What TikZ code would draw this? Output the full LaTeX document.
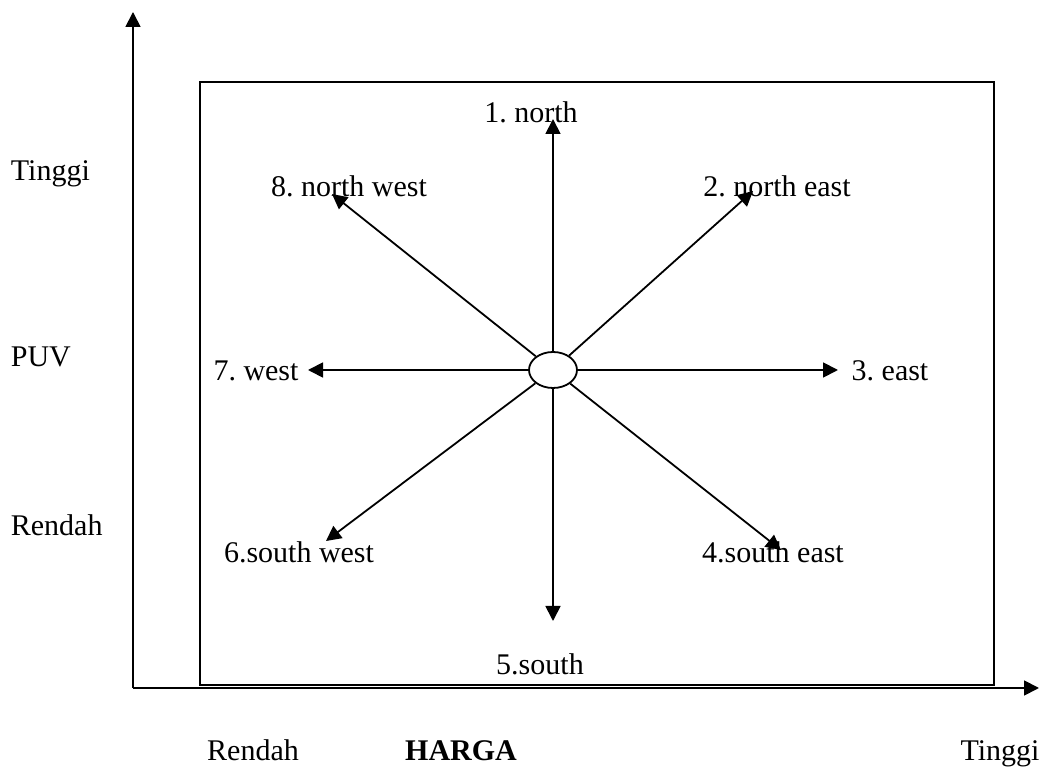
\documentclass[tikz,border=0pt]{standalone}
\usepackage{fontspec}
\setmainfont{Liberation Serif}
\usetikzlibrary{arrows.meta,shapes.geometric}
\tikzset{
  lbl/.style={font=\fontsize{15}{18}\selectfont, inner sep=0pt, text height=1.45ex, text depth=0.3ex, yshift=-2.2pt},
  arr/.style={-{Triangle[length=7.5pt,width=7.5pt]}, line width=0.9pt}
}
\frenchspacing
\begin{document}
\begin{tikzpicture}[x=0.5pt, y=-0.5pt, line width=0.9pt]
  \useasboundingbox (0,0) rectangle (1040,774);
  % axes
  \coordinate (o) at (133,688);
  \coordinate (ytop) at (133,12);
  \coordinate (xend) at (1039,688);
  \draw[arr] (o) -- (ytop);
  \draw[arr] (o) -- (xend);
  \draw (200,82) rectangle (994,685);
  % centre
  \node[draw, ellipse, minimum width=24pt, minimum height=18pt, inner sep=0pt] (c) at (553,370) {};
  \coordinate (tn) at (553,119);
  \coordinate (tne) at (753,191);
  \coordinate (te) at (838,370);
  \coordinate (tse) at (781,550);
  \coordinate (ts) at (553,621);
  \coordinate (tsw) at (326,541);
  \coordinate (tw) at (308,370);
  \coordinate (tnw) at (332,194);
  \draw[arr] (c) -- (tn);
  \draw[arr] (c) -- (tne);
  \draw[arr] (c) -- (te);
  \draw[arr] (c) -- (tse);
  \draw[arr] (c) -- (ts);
  \draw[arr] (c) -- (tsw);
  \draw[arr] (c) -- (tw);
  \draw[arr] (c) -- (tnw);
  % labels
  \node[lbl] (north) at (531,113) {1. north};
  \node[lbl] (ne) at (777,187) {2. north east};
  \node[lbl] (east) at (890,371) {3. east};
  \node[lbl] (se) at (773,553) {4.south east};
  \node[lbl] (south) at (540,665) {5.south};
  \node[lbl] (sw) at (299,553) {6.south west};
  \node[lbl] (west) at (256,371) {7. west};
  \node[lbl] (nw) at (349,187) {8. north west};
  \node[lbl, anchor=west] (ytinggi) at (10,171) {Tinggi};
  \node[lbl, anchor=west] (puv) at (10,357) {PUV};
  \node[lbl, anchor=west] (yrendah) at (10,526) {Rendah};
  \node[lbl] (xrendah) at (253,751) {Rendah};
  \node[lbl, font=\fontsize{15}{18}\selectfont\bfseries] (harga) at (461,751) {HARGA};
  \node[lbl] (xtinggi) at (1000,751) {Tinggi};
\end{tikzpicture}
\end{document}
